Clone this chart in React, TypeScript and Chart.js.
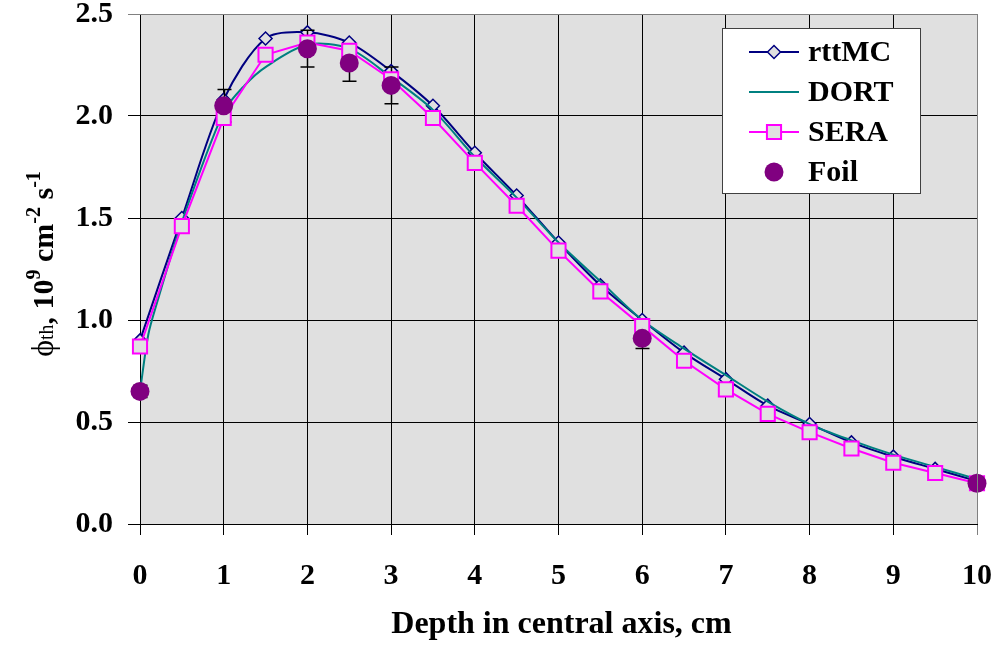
import React, { useEffect, useRef } from 'react';
import { Chart, registerables } from 'chart.js';

Chart.register(...registerables);

// ---------- data ----------
const depthCm = [0, 0.5, 1, 1.5, 2, 2.5, 3, 3.5, 4, 4.5, 5, 5.5, 6, 6.5, 7, 7.5, 8, 8.5, 9, 9.5, 10];
const rttMCValues = [0.9, 1.5, 2.08, 2.38, 2.41, 2.36, 2.22, 2.05, 1.82, 1.61, 1.38, 1.17, 1.0, 0.84, 0.71, 0.58, 0.49, 0.4, 0.33, 0.27, 0.21];
const seraValues = [0.87, 1.46, 1.99, 2.3, 2.36, 2.32, 2.18, 1.99, 1.77, 1.56, 1.34, 1.14, 0.97, 0.8, 0.66, 0.54, 0.45, 0.37, 0.3, 0.25, 0.2];
const dortDepth = [0, 0.1, 0.2, 0.5, 1.0, 1.25, 1.5, 2, 2.5, 3, 3.5, 4, 4.5, 5, 5.5, 6, 6.5, 7, 7.5, 8, 8.5, 9, 9.5, 10];
const dortValues = [0.65, 0.93, 1.08, 1.48, 2.02, 2.15, 2.24, 2.35, 2.33, 2.19, 2.03, 1.8, 1.6, 1.38, 1.19, 1.0, 0.86, 0.73, 0.6, 0.49, 0.41, 0.34, 0.28, 0.22];
const foilDepth = [0, 1, 2, 2.5, 3, 6, 10];
const foilValues = [0.65, 2.05, 2.33, 2.26, 2.15, 0.91, 0.2];
const foilErrors = [0.03, 0.08, 0.09, 0.09, 0.09, 0.05, 0.01];
const seriesLabels = ['rttMC', 'DORT', 'SERA', 'Foil'];
const xAxisTitle = 'Depth in central axis, cm';
const xTickMin = 0;
const xTickMax = 10;
const yTickMin = 0;
const yTickMax = 2.5;

// ---------- styles ----------
const FONT = '"Liberation Serif", "Times New Roman", serif';
const PLOT_BG = '#E0E0E0';
const NAVY = '#000080';
const TEAL = '#008080';
const MAGENTA = '#FF00FF';
const PURPLE = '#800080';

const toPoints = (xs: number[], ys: number[]) => xs.map((x, i) => ({ x, y: ys[i] }));

const plotBgPlugin = {
  id: 'plotBg',
  beforeDraw(chart: any) {
    const { ctx, chartArea } = chart;
    ctx.save();
    ctx.fillStyle = PLOT_BG;
    ctx.fillRect(chartArea.left, chartArea.top, chartArea.right - chartArea.left, chartArea.bottom - chartArea.top);
    ctx.restore();
  },
};

const errorBarPlugin = {
  id: 'errorBars',
  beforeDatasetDraw(chart: any, args: any) {
    if (args.index !== 2) return;
    const { ctx } = chart;
    const xs = chart.scales.x;
    const ys = chart.scales.y;
    ctx.save();
    ctx.strokeStyle = '#000';
    ctx.lineWidth = 1.5;
    foilDepth.forEach((d, i) => {
      const px = Math.round(xs.getPixelForValue(d)) + 0.5;
      const top = ys.getPixelForValue(foilValues[i] + foilErrors[i]);
      const bot = ys.getPixelForValue(foilValues[i] - foilErrors[i]);
      ctx.beginPath();
      ctx.moveTo(px, top);
      ctx.lineTo(px, bot);
      ctx.moveTo(px - 7, top);
      ctx.lineTo(px + 7, top);
      ctx.moveTo(px - 7, bot);
      ctx.lineTo(px + 7, bot);
      ctx.stroke();
    });
    ctx.restore();
  },
};

function drawMarker(ctx: CanvasRenderingContext2D, style: string, x: number, y: number, r: number, fill: string, stroke: string, bw: number) {
  ctx.beginPath();
  if (style === 'rectRot') {
    ctx.moveTo(x - r, y);
    ctx.lineTo(x, y - r);
    ctx.lineTo(x + r, y);
    ctx.lineTo(x, y + r);
    ctx.closePath();
  } else if (style === 'rect') {
    const s = r * Math.SQRT1_2;
    ctx.rect(x - s, y - s, 2 * s, 2 * s);
  } else {
    ctx.arc(x, y, r, 0, Math.PI * 2);
  }
  ctx.fillStyle = fill;
  ctx.fill();
  if (bw > 0) {
    ctx.lineWidth = bw;
    ctx.strokeStyle = stroke;
    ctx.stroke();
  }
}

const annotationsPlugin = {
  id: 'annotations',
  afterDraw(chart: any) {
    const { ctx, chartArea } = chart;
    ctx.save();

    // plot border (top/right gray)
    ctx.strokeStyle = '#808080';
    ctx.lineWidth = 1;
    ctx.beginPath();
    ctx.moveTo(chartArea.left, chartArea.top + 0.5);
    ctx.lineTo(chartArea.right + 0.5, chartArea.top + 0.5);
    ctx.lineTo(chartArea.right + 0.5, chartArea.bottom);
    ctx.stroke();

    // legend
    const boxL = chartArea.right - 255;
    const boxT = chartArea.top + 14;
    const boxW = 198;
    const boxH = 165;
    ctx.fillStyle = '#FFFFFF';
    ctx.fillRect(boxL, boxT, boxW, boxH);
    ctx.strokeStyle = '#404040';
    ctx.lineWidth = 1;
    ctx.strokeRect(boxL + 0.5, boxT + 0.5, boxW, boxH);
    ctx.font = `bold 30px ${FONT}`;
    ctx.textBaseline = 'middle';
    ctx.textAlign = 'left';
    chart.data.datasets.forEach((ds: any, i: number) => {
      const rowY = boxT + 24 + i * 40;
      const lx1 = boxL + 27;
      const lx2 = boxL + 77;
      const mx = (lx1 + lx2) / 2;
      if (ds.showLine !== false) {
        ctx.strokeStyle = ds.borderColor;
        ctx.lineWidth = ds.borderWidth;
        ctx.beginPath();
        ctx.moveTo(lx1, rowY);
        ctx.lineTo(lx2, rowY);
        ctx.stroke();
      }
      if (ds.pointRadius > 0) {
        drawMarker(ctx, ds.pointStyle, mx, rowY, ds.pointRadius, ds.pointBackgroundColor, ds.pointBorderColor, ds.pointBorderWidth);
      }
      ctx.fillStyle = '#000';
      ctx.fillText(ds.label, boxL + 86, rowY + 1);
    });

    // x title
    ctx.fillStyle = '#000';
    ctx.font = `bold 32px ${FONT}`;
    ctx.textAlign = 'center';
    ctx.textBaseline = 'alphabetic';
    ctx.fillText(xAxisTitle, (chartArea.left + chartArea.right) / 2 + 3, 633);

    // y title (rotated, with sub/superscripts)
    const runs = [
      { t: '\u03D5', f: `normal 32px ${FONT}`, dy: 0 },
      { t: 'th', f: `normal 20px ${FONT}`, dy: 0 },
      { t: ', 10', f: `bold 30px ${FONT}`, dy: 0 },
      { t: '9', f: `bold 20px ${FONT}`, dy: -13 },
      { t: ' cm', f: `bold 30px ${FONT}`, dy: 0 },
      { t: '-2', f: `bold 20px ${FONT}`, dy: -13 },
      { t: ' s', f: `bold 30px ${FONT}`, dy: 0 },
      { t: '-1', f: `bold 20px ${FONT}`, dy: -13 },
    ];
    let total = 0;
    const widths = runs.map((r) => {
      ctx.font = r.f;
      const w = ctx.measureText(r.t).width;
      total += w;
      return w;
    });
    const cy = (chartArea.top + chartArea.bottom) / 2 - 5;
    ctx.translate(53, cy);
    ctx.rotate(-Math.PI / 2);
    ctx.textAlign = 'left';
    let cx = -total / 2;
    runs.forEach((r, i) => {
      ctx.font = r.f;
      ctx.fillText(r.t, cx, r.dy);
      cx += widths[i];
    });

    ctx.restore();
  },
};

export default function App() {
  const ref = useRef<HTMLCanvasElement>(null);

  useEffect(() => {
    document.body.style.margin = '0';
    const canvas = ref.current;
    if (!canvas) return;

    const chart = new Chart(canvas, {
      type: 'line',
      data: {
        datasets: [
          {
            label: seriesLabels[0],
            data: toPoints(depthCm, rttMCValues),
            borderColor: NAVY,
            borderWidth: 2,
            tension: 0.3,
            pointStyle: 'rectRot',
            pointRadius: 6.5,
            pointBackgroundColor: PLOT_BG,
            pointBorderColor: NAVY,
            pointBorderWidth: 1.5,
            order: 3,
            clip: false,
          },
          {
            label: seriesLabels[1],
            data: toPoints(dortDepth, dortValues),
            borderColor: TEAL,
            borderWidth: 2,
            tension: 0.3,
            pointRadius: 0,
            order: 2,
            clip: false,
          },
          {
            label: seriesLabels[2],
            data: toPoints(depthCm, seraValues),
            borderColor: MAGENTA,
            borderWidth: 2,
            tension: 0,
            pointStyle: 'rect',
            pointRadius: 10,
            pointBackgroundColor: PLOT_BG,
            pointBorderColor: MAGENTA,
            pointBorderWidth: 2,
            order: 1,
            clip: false,
          },
          {
            label: seriesLabels[3],
            data: toPoints(foilDepth, foilValues),
            showLine: false,
            borderColor: PURPLE,
            borderWidth: 0,
            pointStyle: 'circle',
            pointRadius: 9.5,
            pointBackgroundColor: PURPLE,
            pointBorderColor: PURPLE,
            pointBorderWidth: 0,
            order: 0,
            clip: false,
          },
        ] as any,
      },
      options: {
        responsive: false,
        animation: false,
        devicePixelRatio: 1,
        layout: { padding: { left: 0, top: 14, right: 19, bottom: 0 } },
        plugins: {
          legend: { display: false },
          tooltip: { enabled: false },
          title: { display: false },
        },
        scales: {
          x: {
            type: 'linear',
            min: xTickMin,
            max: xTickMax,
            afterFit: (s: any) => {
              s.height = 122;
              s.paddingLeft = 0;
              s.paddingRight = 0;
              s.paddingTop = 0;
              s.paddingBottom = 0;
            },
            ticks: {
              stepSize: 1,
              autoSkip: false,
              maxRotation: 0,
              padding: 26,
              color: '#000',
              font: { family: FONT, size: 30, weight: 'bold', lineHeight: 1 },
            },
            grid: {
              color: (c: any) => (c.tick && c.tick.value === xTickMax ? '#808080' : '#000'),
              lineWidth: 1,
              tickLength: 11,
            },
            border: { color: '#000', width: 1 },
          },
          y: {
            type: 'linear',
            min: yTickMin,
            max: yTickMax,
            afterFit: (s: any) => {
              s.width = 140;
              s.paddingLeft = 0;
              s.paddingRight = 0;
              s.paddingTop = 0;
              s.paddingBottom = 0;
            },
            ticks: {
              stepSize: 0.5,
              padding: 15,
              color: '#000',
              callback: (v: any) => Number(v).toFixed(1),
              font: { family: FONT, size: 30, weight: 'bold', lineHeight: 0.9 },
            },
            grid: {
              color: (c: any) => (c.tick && c.tick.value === yTickMax ? '#808080' : '#000'),
              lineWidth: 1,
              tickLength: 12,
            },
            border: { color: '#000', width: 1 },
          },
        },
      } as any,
      plugins: [plotBgPlugin, errorBarPlugin, annotationsPlugin],
    });

    return () => chart.destroy();
  }, []);

  return (
    <div style={{ width: 996, height: 646, position: 'relative' }}>
      <canvas ref={ref} width={996} height={646} style={{ display: 'block', width: 996, height: 646 }} />
    </div>
  );
}
